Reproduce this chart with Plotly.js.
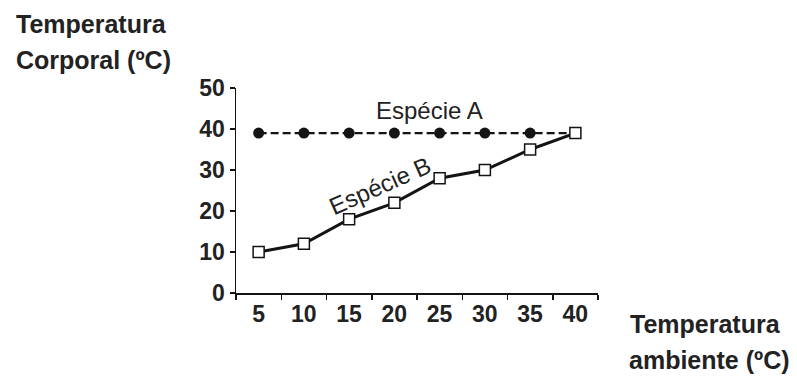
<!DOCTYPE html>
<html>
<head>
<meta charset="utf-8">
<script src="https://cdn.plot.ly/plotly-3.0.1.min.js"></script>
<style>
html,body{margin:0;padding:0;background:#fff;}
#chart{width:797px;height:378px;}
</style>
</head>
<body>
<div id="chart"></div>
<script>
const categories = ["5", "10", "15", "20", "25", "30", "35", "40"];
const especieA = [39, 39, 39, 39, 39, 39, 39, 39];
const especieB = [10, 12, 18, 22, 28, 30, 35, 39];
const yTickVals = [0, 10, 20, 30, 40, 50];

const ink = "#141414";
const traceA = {
  x: categories, y: especieA, type: "scatter", mode: "lines+markers",
  line: {color: ink, width: 2.3, dash: "8px,4px"},
  marker: {symbol: "circle", size: 11, color: ink},
  showlegend: false, hoverinfo: "skip"
};
const traceB = {
  x: categories, y: especieB, type: "scatter", mode: "lines+markers",
  line: {color: ink, width: 3},
  marker: {symbol: "square", size: 11, color: "#fff", line: {color: ink, width: 1.5}},
  showlegend: false, hoverinfo: "skip"
};

const fam = "Liberation Sans, Arial, sans-serif";
const titleFont = {family: fam, size: 25, color: "#222", weight: "bold"};
const labelFont = {family: fam, size: 24, color: "#222"};
const tickFont = {family: fam, size: 23, color: "#222", weight: "bold"};

const layout = {
  width: 797, height: 378,
  margin: {l: 236, r: 199, t: 88, b: 85},
  paper_bgcolor: "#fff", plot_bgcolor: "#fff",
  font: {family: fam, color: "#222"},
  xaxis: {
    type: "category", range: [-0.5, 7.5],
    showline: true, linecolor: ink, linewidth: 1.5,
    ticks: "outside", tickson: "boundaries", ticklen: 5, tickcolor: ink, tickwidth: 1.5,
    showgrid: false, zeroline: false,
    tickfont: tickFont
  },
  yaxis: {
    range: [0, 50], tickvals: yTickVals,
    showline: true, linecolor: ink, linewidth: 1.5,
    ticks: "outside", ticklen: 5, tickcolor: ink, tickwidth: 1.5,
    showgrid: false, zeroline: false,
    tickfont: tickFont
  },
  annotations: [
    {text: "Temperatura", xref: "paper", yref: "paper", x: -0.613, y: 1.312, xanchor: "left", yanchor: "middle", showarrow: false, font: titleFont},
    {text: "Corporal (ºC)", xref: "paper", yref: "paper", x: -0.613, y: 1.135, xanchor: "left", yanchor: "middle", showarrow: false, font: titleFont},
    {text: "Temperatura", xref: "paper", yref: "paper", x: 1.083, y: -0.151, xanchor: "left", yanchor: "middle", showarrow: false, font: titleFont},
    {text: "ambiente (ºC)", xref: "paper", yref: "paper", x: 1.080, y: -0.327, xanchor: "left", yanchor: "middle", showarrow: false, font: titleFont},
    {text: "Espécie A", xref: "x", yref: "y", x: 3.77, y: 44.6, xanchor: "center", yanchor: "middle", showarrow: false, font: labelFont},
    {text: "Espécie B", xref: "x", yref: "y", x: 2.69, y: 26.2, xanchor: "center", yanchor: "middle", showarrow: false, textangle: -24, font: labelFont}
  ]
};

Plotly.newPlot("chart", [traceA, traceB], layout, {displayModeBar: false, staticPlot: true});
</script>
</body>
</html>
